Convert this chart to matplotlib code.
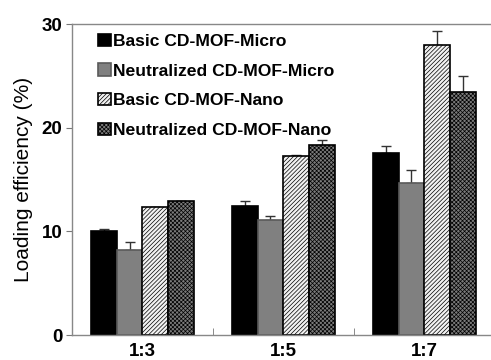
import numpy as np
import matplotlib.pyplot as plt

plt.rcParams['font.family'] = ['Liberation Sans', 'DejaVu Sans']
plt.rcParams['hatch.linewidth'] = 0.5

# data
ratios = ['1:3', '1:5', '1:7']
series_names = ['Basic CD-MOF-Micro', 'Neutralized CD-MOF-Micro',
                'Basic CD-MOF-Nano', 'Neutralized CD-MOF-Nano']
basic_micro = [10.0, 12.45, 17.55]
neutral_micro = [8.2, 11.1, 14.7]
basic_nano = [12.35, 17.25, 28.0]
neutral_nano = [12.95, 18.3, 23.45]
basic_micro_err = [0.2, 0.45, 0.65]
neutral_micro_err = [0.75, 0.4, 1.2]
basic_nano_err = [0.0, 0.15, 1.3]
neutral_nano_err = [0.0, 0.55, 1.5]

values = [basic_micro, neutral_micro, basic_nano, neutral_nano]
errors = [basic_micro_err, neutral_micro_err, basic_nano_err, neutral_nano_err]
styles = [
    dict(color='black', edgecolor='black', hatch=None),
    dict(color='#808080', edgecolor='#5a5a5a', hatch=None),
    dict(color='#f2f2f2', edgecolor='black', hatch='////////'),
    dict(color='#7a7a7a', edgecolor='black', hatch='xxxxxxxx'),
]

fig = plt.figure(figsize=(4.91, 3.6), dpi=100)
ax = fig.add_axes([0.1466, 0.0694, 0.8534, 0.8639])

x = np.arange(1, len(ratios) + 1)
w = 0.183
for i in range(4):
    pos = x + (i - 1.5) * w
    st = styles[i]
    ax.errorbar(pos, values[i], yerr=[np.zeros(3), errors[i]], fmt='none',
                ecolor='#333333', elinewidth=1, capsize=3.5, capthick=1, zorder=1)
    ax.bar(pos, values[i], w, color=st['color'], edgecolor=st['edgecolor'],
           hatch=st['hatch'], linewidth=1.2, label=series_names[i], zorder=2)

ax.set_xlim(0.5, 3.473)
ax.set_ylim(0, 30)
ax.set_yticks([0, 10, 20, 30])
ax.set_xticks(x)
ax.set_xticklabels(ratios)
ax.set_xticks([1.5, 2.5], minor=True)
ax.tick_params(axis='x', which='major', length=0, pad=6)
ax.tick_params(axis='x', which='minor', direction='in', length=5, color='#777777')
ax.tick_params(axis='y', direction='out', length=4, color='#777777', pad=3)
for lab in ax.get_xticklabels() + ax.get_yticklabels():
    lab.set_fontsize(13.5)
    lab.set_fontweight('bold')

for s in ['left', 'bottom', 'top']:
    ax.spines[s].set_color('#888888')
    ax.spines[s].set_linewidth(1.0)
ax.spines['right'].set_visible(False)

ax.set_ylabel('Loading efficiency (%)', fontsize=15, labelpad=6)

ax.legend(loc='upper left', bbox_to_anchor=(0.04, 1.0), frameon=False,
          prop={'size': 12.6, 'weight': 'bold'}, handlelength=0.7,
          handleheight=0.7, handletextpad=0.15, labelspacing=0.83,
          borderaxespad=0.15)

fig.savefig('out.png', dpi=100)
